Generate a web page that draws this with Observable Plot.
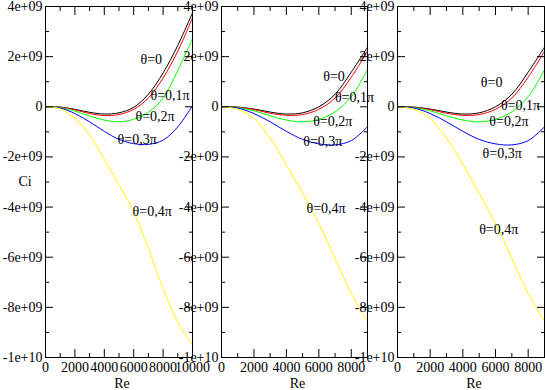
<!DOCTYPE html>
<html><head><meta charset="utf-8">
<script src="https://cdn.jsdelivr.net/npm/d3@7"></script>
<script src="https://cdn.jsdelivr.net/npm/@observablehq/plot@0.6"></script>
<style>
html,body{margin:0;padding:0;background:#fff;}
#chart{position:relative;width:545px;height:390px;background:#fff;}
#chart svg{position:absolute;left:0;top:0;}
</style></head><body><div id="chart"></div>
<script>
// ---- data (Ci in units of 1e9) ----
const re10 = [0,1000,2000,3000,4000,5000,6000,7000,8000,9000,10000];
const re9  = [0,1000,2000,3000,4000,5000,6000,7000,8000,9000];

const thetaNames = ["θ=0","θ=0,1π","θ=0,2π","θ=0,3π","θ=0,4π"];
const thetaColors = ["#000000","#ff0000","#00ff00","#0000ff","#ffff00"];

// panel 1 (Re 0..10000)
const p1Theta00 = [0,-0.01,-0.10,-0.22,-0.29,-0.24,-0.02,0.50,1.35,2.45,3.75];
const p1Theta01 = [0,-0.02,-0.12,-0.27,-0.35,-0.31,-0.10,0.35,1.15,2.22,3.55];
const p1Theta02 = [0,-0.03,-0.17,-0.37,-0.53,-0.60,-0.50,-0.22,0.35,1.45,2.72];
const p1Theta03 = [0,-0.05,-0.27,-0.60,-0.98,-1.30,-1.47,-1.50,-1.33,-0.80,0.05];
const p1Theta04 = [0,-0.08,-0.45,-1.12,-2.10,-3.10,-4.20,-5.65,-7.25,-8.60,-9.52];

// panels 2 and 3 (Re 0..9000)
const p23Theta00 = [0,-0.01,-0.09,-0.21,-0.29,-0.24,0.00,0.50,1.38,2.38];
const p23Theta01 = [0,-0.02,-0.11,-0.26,-0.34,-0.31,-0.10,0.35,1.18,2.22];
const p23Theta02 = [0,-0.03,-0.16,-0.36,-0.53,-0.60,-0.50,-0.20,0.40,1.48];
const p23Theta03 = [0,-0.05,-0.27,-0.60,-0.98,-1.30,-1.48,-1.52,-1.35,-0.80];
const p23Theta04 = [0,-0.10,-0.47,-1.25,-2.30,-3.45,-4.65,-6.05,-7.45,-8.56];

// curve label anchors (Re, Ci e9)
const p1LabelRe = [6460,7140,6120,4900,5920];
const p1LabelCi = [1.88,0.44,-0.40,-1.32,-4.19];
const p2LabelRe = [6270,6990,5650,5040,5240];
const p2LabelCi = [1.19,0.35,-0.59,-1.39,-4.05];
const p3LabelRe = [5100,6330,5620,5210,5000];
const p3LabelCi = [0.95,0.04,-0.59,-1.88,-4.89];

// ticks
const yMajor = [4,2,0,-2,-4,-6,-8,-10];
const yMajorLabels = ["4e+09","2e+09","0","-2e+09","-4e+09","-6e+09","-8e+09","-1e+10"];
const yMinor = [3,1,-1,-3,-5,-7,-9];
const x10Major = [0,2000,4000,6000,8000,10000];
const x10MajorLabels = ["0","2000","4000","6000","8000","10000"];
const x10Minor = [1000,3000,5000,7000,9000];
const x9Major = [0,2000,4000,6000,8000];
const x9MajorLabels = ["0","2000","4000","6000","8000"];
const x9Minor = [1000,3000,5000,7000,9000];

// ---- drawing ----
const W = 545, H = 390;
function panel({left, right, re, series, labRe, labCi, xMax, xMajor, xMajorLabels, xMinor, ci}) {
  const rows = series.flatMap((vals, i) => vals.map((v, j) => ({re: re[j], ci: v, s: thetaNames[i]})));
  const labs = thetaNames.map((t, i) => ({t, re: labRe[i], ci: labCi[i]}));
  const marks = [
    Plot.line(rows, {x: "re", y: "ci", z: "s", stroke: "s", strokeWidth: 1, curve: "catmull-rom"}),
    Plot.text(labs, {x: "re", y: "ci", text: "t", textAnchor: "start", fill: "#000", fontSize: 14}),
    Plot.frame({stroke: "#000"}),
    Plot.axisY({anchor: "left", ticks: yMajor, tickSize: -8, text: null, label: null}),
    Plot.axisY({anchor: "left", ticks: yMinor, tickSize: -4, text: null, label: null}),
    Plot.axisY({anchor: "right", ticks: yMajor, tickSize: -8, text: null, label: null}),
    Plot.axisY({anchor: "right", ticks: yMinor, tickSize: -4, text: null, label: null}),
    Plot.axisY({anchor: "left", ticks: yMajor, tickSize: 0, tickPadding: 3, label: null,
      tickFormat: d => yMajorLabels[yMajor.indexOf(d)], fontSize: 14}),
    Plot.axisX({anchor: "bottom", ticks: xMajor, tickSize: -8, text: null, label: null}),
    Plot.axisX({anchor: "bottom", ticks: xMinor, tickSize: -4, text: null, label: null}),
    Plot.axisX({anchor: "top", ticks: xMajor, tickSize: -8, text: null, label: null}),
    Plot.axisX({anchor: "top", ticks: xMinor, tickSize: -4, text: null, label: null}),
    Plot.axisX({anchor: "bottom", ticks: xMajor, tickSize: 0, tickPadding: 5, label: null,
      tickFormat: d => xMajorLabels[xMajor.indexOf(d)], fontSize: 14}),
    Plot.text(["Re"], {frameAnchor: "bottom", lineAnchor: "middle", dx: 3, dy: 26, fontSize: 14, fill: "#000"})
  ];
  if (ci) marks.push(Plot.text(["Ci"], {frameAnchor: "left", dx: -27, fontSize: 14, fill: "#000"}));
  return Plot.plot({
    width: W, height: H,
    marginLeft: left, marginRight: W - right, marginTop: 6, marginBottom: 33,
    style: {background: "transparent", fontFamily: "'Liberation Serif','Times New Roman',serif", fontSize: "14px", color: "#000", overflow: "visible"},
    x: {domain: [0, xMax], label: null},
    y: {domain: [-10, 4], label: null},
    color: {domain: thetaNames, range: thetaColors},
    marks
  });
}

const chart = document.getElementById("chart");
chart.append(panel({left: 45, right: 192, re: re10,
  series: [p1Theta00,p1Theta01,p1Theta02,p1Theta03,p1Theta04],
  labRe: p1LabelRe, labCi: p1LabelCi, xMax: 10000,
  xMajor: x10Major, xMajorLabels: x10MajorLabels, xMinor: x10Minor, ci: true}));
chart.append(panel({left: 221, right: 367, re: re9,
  series: [p23Theta00,p23Theta01,p23Theta02,p23Theta03,p23Theta04],
  labRe: p2LabelRe, labCi: p2LabelCi, xMax: 9000,
  xMajor: x9Major, xMajorLabels: x9MajorLabels, xMinor: x9Minor, ci: false}));
chart.append(panel({left: 397, right: 544, re: re9,
  series: [p23Theta00,p23Theta01,p23Theta02,p23Theta03,p23Theta04],
  labRe: p3LabelRe, labCi: p3LabelCi, xMax: 9000,
  xMajor: x9Major, xMajorLabels: x9MajorLabels, xMinor: x9Minor, ci: false}));
</script></body></html>
